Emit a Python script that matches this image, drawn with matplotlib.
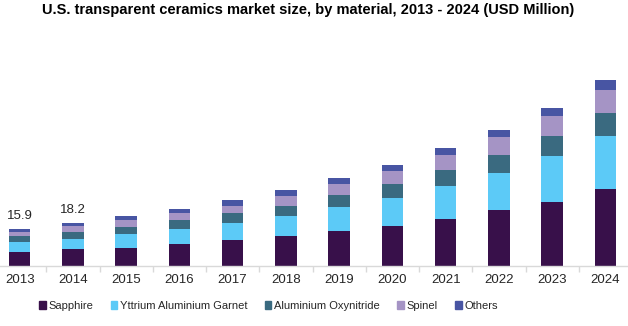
import numpy as np
import matplotlib
matplotlib.use("Agg")
import matplotlib.pyplot as plt
from matplotlib.patches import Patch

plt.rcParams['font.family'] = ['Liberation Sans', 'DejaVu Sans']

years = ['2013', '2014', '2015', '2016', '2017', '2018',
         '2019', '2020', '2021', '2022', '2023', '2024']

# USD Million by material
sapphire = [5.6, 6.9, 7.7, 9.2, 10.8, 12.5, 14.8, 17.2, 20.2, 23.7, 27.5, 32.7]
yag      = [4.3, 4.4, 5.7, 6.3, 7.3, 8.6, 10.2, 12.0, 13.8, 16.3, 19.8, 22.8]
alon     = [2.6, 3.0, 3.3, 3.9, 4.3, 4.7, 5.2, 6.0, 6.9, 7.7, 8.6, 9.9]
spinel   = [1.7, 2.6, 2.7, 3.0, 3.4, 4.3, 4.7, 5.6, 6.5, 7.7, 8.6, 10.3]
others   = [1.7, 1.3, 1.7, 1.7, 2.2, 2.2, 2.6, 2.6, 3.0, 3.0, 3.4, 3.9]

labelled_years = {0: 15.9, 1: 18.2}

series = [
    ('Sapphire', sapphire, '#38104a'),
    ('Yttrium Aluminium Garnet', yag, '#5ccaf7'),
    ('Aluminium Oxynitride', alon, '#3a6a80'),
    ('Spinel', spinel, '#a594c5'),
    ('Others', others, '#4855a3'),
]

W, H = 628, 326
fig = plt.figure(figsize=(W / 100, H / 100), dpi=100)
# plot area in pixels: left -7, right 632, baseline 265.5, top 40
ax = fig.add_axes([-7 / W, (H - 265.5) / H, 639 / W, 225.5 / H])

x = np.arange(len(years))
bottom = np.zeros(len(years))
for name, vals, color in series:
    ax.bar(x, vals, 0.4, bottom=bottom, color=color, label=name)
    bottom += np.array(vals)

for i, v in labelled_years.items():
    ax.text(x[i], v + 3.0, f'{v:.1f}', ha='center', va='bottom',
            fontsize=9.5, color='#262626')

ax.set_xlim(-0.5, len(years) - 0.5)
ax.set_ylim(0, 97)
ax.set_yticks([])
for s in ['top', 'right', 'left']:
    ax.spines[s].set_visible(False)
ax.spines['bottom'].set_color('#d9d9d9')
ax.spines['bottom'].set_linewidth(1.0)

ax.set_xticks(x)
ax.set_xticklabels(years, fontsize=9.5, color='#262626')
ax.tick_params(axis='x', which='major', length=0, pad=6)
ax.set_xticks(x[:-1] + 0.5, minor=True)
ax.tick_params(axis='x', which='minor', length=4, color='#d9d9d9', width=1)

fig.text(0.5 * (42 + 575) / W, 1 - 10 / H,
         'U.S. transparent ceramics market size, by material, 2013 - 2024 (USD Million)',
         ha='center', va='center', fontsize=10.5, fontweight='bold', color='black')

handles = [Patch(color=c, label=n) for n, _, c in series]
fig.legend(handles=handles, loc='center left', bbox_to_anchor=(39 / W, 1 - 306 / H),
           ncol=5, frameon=False, fontsize=8.0, handlelength=0.6, handleheight=0.65,
           handletextpad=0.25, columnspacing=1.55, borderaxespad=0, borderpad=0,
           labelcolor='#262626')

fig.savefig('out.png', dpi=100)
